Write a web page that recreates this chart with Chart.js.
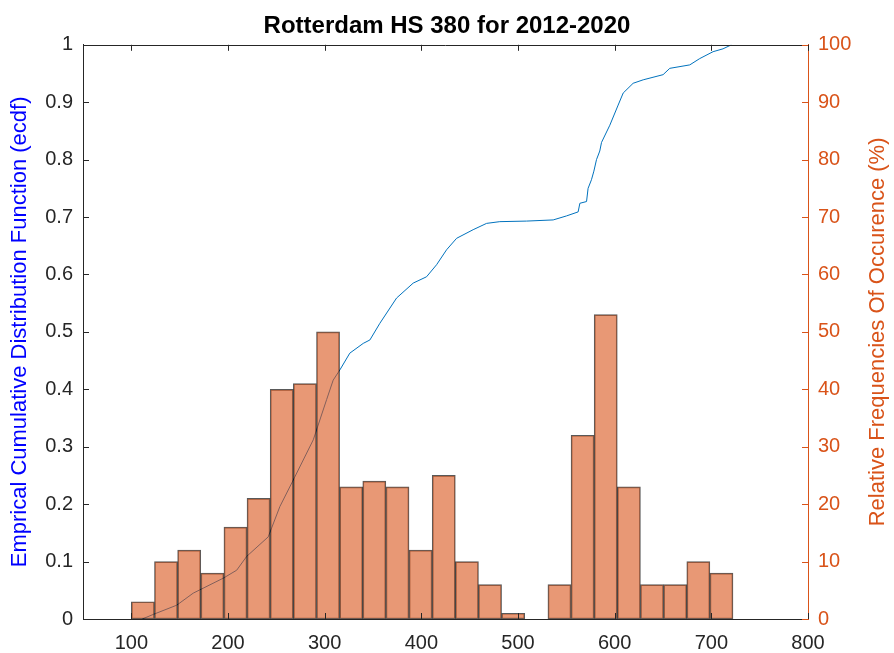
<!DOCTYPE html>
<html><head><meta charset="utf-8">
<script src="https://cdn.jsdelivr.net/npm/chart.js@4"></script>
<style>html,body{margin:0;padding:0;background:#fff}canvas{display:block}</style>
</head><body>
<canvas id="c" width="894" height="653"></canvas>
<script>
// ---- data ----
const binEdges = [100, 123.9, 147.9, 171.8, 195.8, 219.7, 243.6, 267.6, 291.5, 315.5, 339.4, 363.3, 387.3,
  411.2, 435.2, 459.1, 483.0, 507.0, 530.9, 554.9, 578.8, 602.7, 626.7, 650.6, 674.6, 698.5, 722.4];
const counts = [3, 10, 12, 8, 16, 21, 40, 41, 50, 23, 24, 23, 12, 25, 10, 6, 1, 0, 6, 32, 53, 23, 6, 6, 10, 8];
const ecdfX = [111.3, 122.7, 146.9, 164, 195, 209, 219.3, 241.6, 253.7, 267.5, 288.2, 302, 308.8, 315.8, 326,
  339.9, 346.8, 357.1, 374.4, 391.6, 405.4, 415.8, 426.1, 436.5, 453.6, 467.5, 481.2, 508.8, 536.4, 550.2,
  562.2, 564, 570.9, 572.5, 576, 578.5, 581.2, 584.6, 586.4, 595, 603.6, 608.8, 619.1, 629.5, 650.1, 657,
  677.7, 688, 701.8, 712.1, 720.8];
const ecdfY = [0, 0.008, 0.024, 0.045, 0.071, 0.085, 0.109, 0.143, 0.196, 0.242, 0.312, 0.382, 0.416, 0.434, 0.463,
  0.48, 0.486, 0.515, 0.559, 0.585, 0.596, 0.617, 0.643, 0.663, 0.678, 0.689, 0.692, 0.693, 0.695, 0.702,
  0.709, 0.724, 0.727, 0.75, 0.765, 0.78, 0.80, 0.815, 0.83, 0.86, 0.895, 0.916, 0.933, 0.939, 0.948, 0.959,
  0.965, 0.976, 0.988, 0.993, 1.0];
const xTicks = [100, 200, 300, 400, 500, 600, 700, 800];
const yLeftTicks = [0, 0.1, 0.2, 0.3, 0.4, 0.5, 0.6, 0.7, 0.8, 0.9, 1];
const yLeftLabels = ['0', '0.1', '0.2', '0.3', '0.4', '0.5', '0.6', '0.7', '0.8', '0.9', '1'];
const yRightTicks = [0, 10, 20, 30, 40, 50, 60, 70, 80, 90, 100];

const titleText = 'Rotterdam HS 380 for 2012-2020';
const leftTitle = 'Emprical Cumulative Distribution Function (ecdf)';
const rightTitle = 'Relative Frequencies Of Occurence (%)';

// ---- styling ----
const FONT = "'Liberation Sans', Arial, Helvetica, sans-serif";
const AXIS = '#262626';
const ORANGE = '#D95319';

const barData = counts.map((c, i) => ({x: (binEdges[i] + binEdges[i + 1]) / 2, y: c}));
const ecdfData = ecdfX.map((x, i) => ({x: x, y: ecdfY[i]}));

const matlabAxes = {
  id: 'matlabAxes',
  afterDatasetsDraw(chart) {
    const {ctx, chartArea: a, scales} = chart;
    const TL = 6;
    ctx.save();
    ctx.lineWidth = 1;
    ctx.strokeStyle = AXIS;
    ctx.beginPath();
    ctx.moveTo(a.left, Math.round(a.top) + 0.5);
    ctx.lineTo(a.right, Math.round(a.top) + 0.5);
    scales.x.ticks.forEach(t => {
      const px = Math.round(scales.x.getPixelForValue(t.value)) + 0.5;
      ctx.moveTo(px, a.bottom); ctx.lineTo(px, a.bottom - TL);
      ctx.moveTo(px, a.top); ctx.lineTo(px, a.top + TL);
    });
    scales.y.ticks.forEach(t => {
      const py = Math.round(scales.y.getPixelForValue(t.value)) + 0.5;
      ctx.moveTo(a.left, py); ctx.lineTo(a.left + TL, py);
    });
    ctx.stroke();
    ctx.strokeStyle = ORANGE;
    ctx.beginPath();
    scales.y2.ticks.forEach(t => {
      const py = Math.round(scales.y2.getPixelForValue(t.value)) + 0.5;
      ctx.moveTo(a.right, py); ctx.lineTo(a.right - TL, py);
    });
    ctx.stroke();
    // right axis title, reading bottom-to-top
    ctx.fillStyle = ORANGE;
    ctx.font = '22px ' + FONT;
    ctx.textAlign = 'center';
    ctx.textBaseline = 'middle';
    ctx.translate(878, (a.top + a.bottom) / 2);
    ctx.rotate(-Math.PI / 2);
    ctx.fillText(rightTitle, 0, 0);
    ctx.restore();
  }
};

new Chart(document.getElementById('c'), {
  type: 'bar',
  data: {
    datasets: [
      {type: 'bar', data: barData, xAxisID: 'x', yAxisID: 'y2',
        backgroundColor: 'rgba(217,83,25,0.6)', borderColor: 'rgba(0,0,0,0.65)', borderWidth: 1,
        borderSkipped: false, barPercentage: 1, categoryPercentage: 1, order: 0},
      {type: 'line', data: ecdfData, xAxisID: 'x', yAxisID: 'y',
        borderColor: '#0072BD', borderWidth: 1, pointRadius: 0, fill: false, tension: 0, order: 1}
    ]
  },
  options: {
    responsive: false, animation: false, devicePixelRatio: 1,
    layout: {padding: 0},
    plugins: {
      legend: {display: false},
      tooltip: {enabled: false},
      title: {display: true, text: titleText, color: '#000',
        font: {family: FONT, size: 24, weight: 'bold'}, padding: {top: 12, bottom: 4}}
    },
    scales: {
      x: {type: 'linear', min: 50, max: 800, offset: false,
        grid: {display: false, offset: false, drawTicks: false},
        border: {display: true, color: AXIS, width: 1},
        ticks: {color: AXIS, font: {family: FONT, size: 20}, padding: 12, maxRotation: 0, autoSkip: false},
        afterBuildTicks: s => { s.ticks = xTicks.map(v => ({value: v})); },
        afterFit: s => { s.height = 34; }
      },
      y: {type: 'linear', position: 'left', min: 0, max: 1,
        grid: {display: false, drawTicks: false},
        border: {display: true, color: AXIS, width: 1},
        ticks: {color: AXIS, font: {family: FONT, size: 20}, padding: 10,
          callback: (v, i) => yLeftLabels[i]},
        title: {display: true, text: leftTitle, color: '#0000FF',
          font: {family: FONT, size: 22}, padding: {top: 7, bottom: 0}},
        afterBuildTicks: s => { s.ticks = yLeftTicks.map(v => ({value: v})); },
        afterFit: s => { s.width = 83; }
      },
      y2: {type: 'linear', position: 'right', min: 0, max: 100,
        grid: {display: false, drawTicks: false},
        border: {display: true, color: ORANGE, width: 1},
        ticks: {color: ORANGE, font: {family: FONT, size: 20}, padding: 10,
          callback: v => String(v)},
        afterBuildTicks: s => { s.ticks = yRightTicks.map(v => ({value: v})); },
        afterFit: s => { s.width = 86; }
      }
    }
  },
  plugins: [matlabAxes]
});
</script>
</body></html>
